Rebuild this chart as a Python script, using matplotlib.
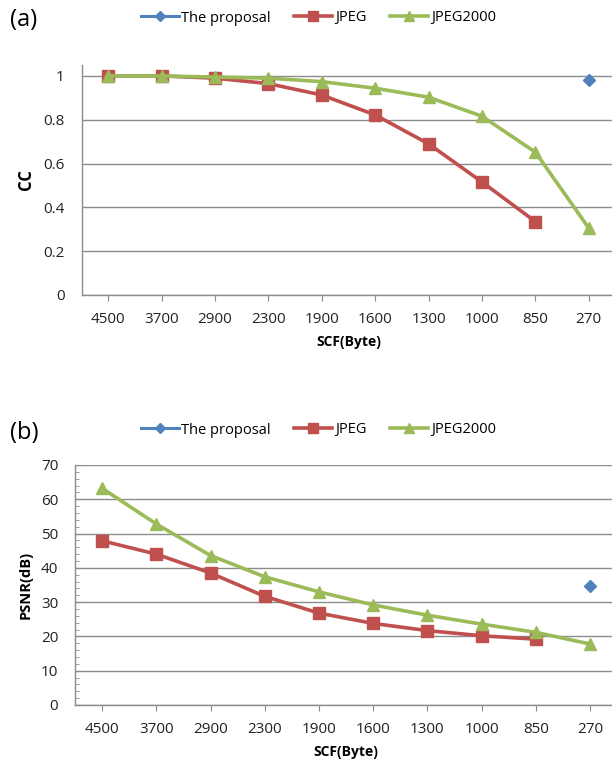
import matplotlib
matplotlib.use("Agg")
import matplotlib.pyplot as plt
from matplotlib.ticker import MultipleLocator
import numpy as np

plt.rcParams["font.family"] = ["Open Sans", "DejaVu Sans"]

categories = ["4500", "3700", "2900", "2300", "1900", "1600", "1300", "1000", "850", "270"]

cc_proposal = [None] * 9 + [0.983]
cc_jpeg = [1.0, 1.0, 0.99, 0.965, 0.913, 0.822, 0.69, 0.516, 0.335, None]
cc_jpeg2000 = [1.0, 1.0, 0.995, 0.99, 0.974, 0.944, 0.903, 0.816, 0.652, 0.305]

psnr_proposal = [None] * 9 + [34.6]
psnr_jpeg = [47.9, 44.0, 38.5, 31.7, 26.8, 23.8, 21.7, 20.2, 19.2, None]
psnr_jpeg2000 = [63.2, 52.8, 43.6, 37.4, 33.0, 29.2, 26.2, 23.6, 21.2, 17.8]

BLUE = "#4F81BD"
RED = "#C0504D"
GREEN = "#9BBB59"
GRID = "#8c8c8c"


def to_arr(vals):
    return np.array([np.nan if v is None else v for v in vals], dtype=float)


def draw_series(ax, proposal, jpeg, jpeg2000):
    x = np.arange(len(categories))
    h1, = ax.plot(x, to_arr(proposal), color=BLUE, lw=2.2, marker="D", ms=6,
                  label="The proposal")
    h2, = ax.plot(x, to_arr(jpeg), color=RED, lw=2.6, marker="s", ms=8.5,
                  label="JPEG")
    h3, = ax.plot(x, to_arr(jpeg2000), color=GREEN, lw=2.6, marker="^", ms=9,
                  label="JPEG2000")
    return [h1, h2, h3]


def style_axes(ax, ylabel, ylabel_size):
    ax.set_xlim(-0.5, len(categories) - 0.5)
    ax.set_xticks(np.arange(len(categories)))
    ax.set_xticklabels(categories)
    for s in ["top", "right"]:
        ax.spines[s].set_visible(False)
    for s in ["left", "bottom"]:
        ax.spines[s].set_color(GRID)
        ax.spines[s].set_linewidth(1.0)
    ax.grid(axis="y", color=GRID, lw=1.0)
    ax.set_axisbelow(True)
    ax.tick_params(axis="x", direction="out", length=4, color=GRID,
                   labelsize=11, pad=8, labelcolor="#222222")
    ax.tick_params(axis="y", length=0, labelsize=11, pad=12, labelcolor="#222222")
    ax.set_xlabel("SCF(Byte)", fontsize=10, fontweight="bold", labelpad=6)
    ax.set_ylabel(ylabel, fontsize=ylabel_size, fontweight="bold", labelpad=6)


fig = plt.figure(figsize=(6.12, 7.65), dpi=100)

# (a) CC
ax1 = fig.add_axes([81.5 / 612, 1 - 295 / 765, 534 / 612, (295 - 65) / 765])
handles = draw_series(ax1, cc_proposal, cc_jpeg, cc_jpeg2000)
style_axes(ax1, "CC", 12)
ax1.set_ylim(0, 1.05)
ax1.set_yticks([0, 0.2, 0.4, 0.6, 0.8, 1])
ax1.set_yticklabels(["0", "0.2", "0.4", "0.6", "0.8", "1"])

# (b) PSNR
ax2 = fig.add_axes([75 / 612, 1 - 705 / 765, 542 / 612, (705 - 465) / 765])
draw_series(ax2, psnr_proposal, psnr_jpeg, psnr_jpeg2000)
style_axes(ax2, "PSNR(dB)", 10.5)
ax2.set_ylim(0, 70)
ax2.set_yticks(range(0, 71, 10))
ax2.yaxis.set_minor_locator(MultipleLocator(2))
ax2.tick_params(axis="y", which="minor", direction="in", length=3, color=GRID)
ax2.tick_params(axis="y", which="major", direction="in", length=5, color=GRID)

for y_leg, label, y_lab in [(1 - 18 / 765, "(a)", 1 - 20 / 765),
                            (1 - 430 / 765, "(b)", 1 - 433 / 765)]:
    fig.legend(handles=handles, loc="center", bbox_to_anchor=(0.52, y_leg),
               ncol=3, frameon=False, fontsize=10.5, handlelength=2.6,
               columnspacing=1.6, handletextpad=0.2, markerscale=0.8)
    fig.text(10 / 612, y_lab, label, fontsize=17, va="center", ha="left")

fig.savefig("out.png", dpi=100)
